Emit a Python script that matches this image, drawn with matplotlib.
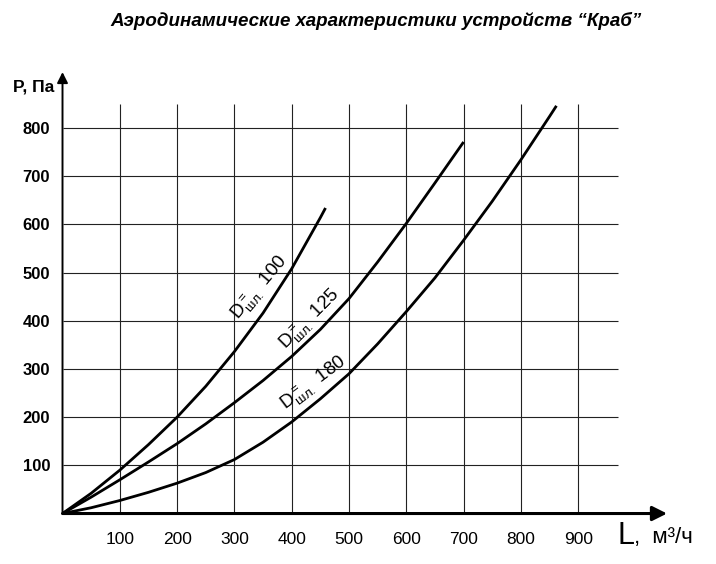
import numpy as np
import matplotlib.pyplot as plt

plt.rcParams['font.family'] = ['Liberation Sans', 'DejaVu Sans']

# Кривые (L, м3/ч -> P, Па)
L_100 = [0, 50, 100, 150, 200, 250, 300, 350, 400, 450, 459]
P_100 = [0, 42, 90, 143, 200, 264, 336, 416, 508, 614, 634]

L_125 = [0, 50, 100, 150, 200, 250, 300, 350, 400, 450, 500, 550, 600, 650, 700]
P_125 = [0, 34, 70, 107, 145, 186, 230, 276, 326, 382, 446, 522, 602, 686, 771]

L_180 = [0, 50, 100, 150, 200, 250, 300, 350, 400, 450, 500, 550, 600, 650, 700, 750, 800, 850, 862]
P_180 = [0, 12, 27, 44, 63, 85, 112, 148, 190, 238, 290, 352, 419, 489, 567, 648, 734, 824, 846]

x_ticks = [100, 200, 300, 400, 500, 600, 700, 800, 900]
y_ticks = [100, 200, 300, 400, 500, 600, 700, 800]

curves = [(L_100, P_100, '100', (346, 468), 50),
          (L_125, P_125, '125', (433, 401), 45),
          (L_180, P_180, '180', (439, 270), 37)]

fig = plt.figure(figsize=(7.16, 5.64), dpi=100)
ax = fig.add_axes([0.0873, 0.0895, 0.8443, 0.7827])
ax.set_xlim(0, 1055)
ax.set_ylim(0, 916)
for s in ax.spines.values():
    s.set_visible(False)

# сетка
ax.vlines(x_ticks, 0, 850, color='#222222', lw=0.8)
ax.hlines(y_ticks, 0, 970, color='#222222', lw=0.8)

# оси со стрелками
ax.annotate('', xy=(1055, 0), xytext=(0, 0),
            arrowprops=dict(arrowstyle='-|>', lw=2.2, color='black', mutation_scale=22,
                            shrinkA=0, shrinkB=0), annotation_clip=False)
ax.annotate('', xy=(0, 916), xytext=(0, 0),
            arrowprops=dict(arrowstyle='-|>', lw=1.4, color='black', mutation_scale=16,
                            shrinkA=0, shrinkB=0), annotation_clip=False)

for L, P, d, pos, rot in curves:
    ax.plot(L, P, color='black', lw=2.0, solid_capstyle='butt', solid_joinstyle='round')
    ax.text(pos[0], pos[1], r'$\mathregular{D_{шл.}^{=}\ %s}$' % d, rotation=rot,
            ha='center', va='center', rotation_mode='anchor', fontsize=13.5)

ax.set_xticks(x_ticks)
ax.set_xticklabels([str(v) for v in x_ticks], fontsize=12.5)
ax.set_yticks(y_ticks)
ax.set_yticklabels([str(v) for v in y_ticks], fontsize=12, fontweight='bold')
ax.tick_params(axis='x', length=0, pad=13)
ax.tick_params(axis='y', length=0, pad=9)

fig.text(13 / 716, 1 - 87 / 564, 'P, Па', fontsize=12.5, fontweight='bold', va='center', ha='left')
fig.text(617 / 716, 1 - 536 / 564, 'L', fontsize=22, va='center', ha='left')
fig.text(634 / 716, 1 - 537 / 564, ',  м³/ч', fontsize=16, va='center', ha='left')

fig.text(376 / 716, 1 - 21 / 564, 'Аэродинамические характеристики устройств “Краб”',
         fontsize=13.5, fontweight='bold', fontstyle='italic', ha='center', va='center')

fig.savefig('out.png', dpi=100)
